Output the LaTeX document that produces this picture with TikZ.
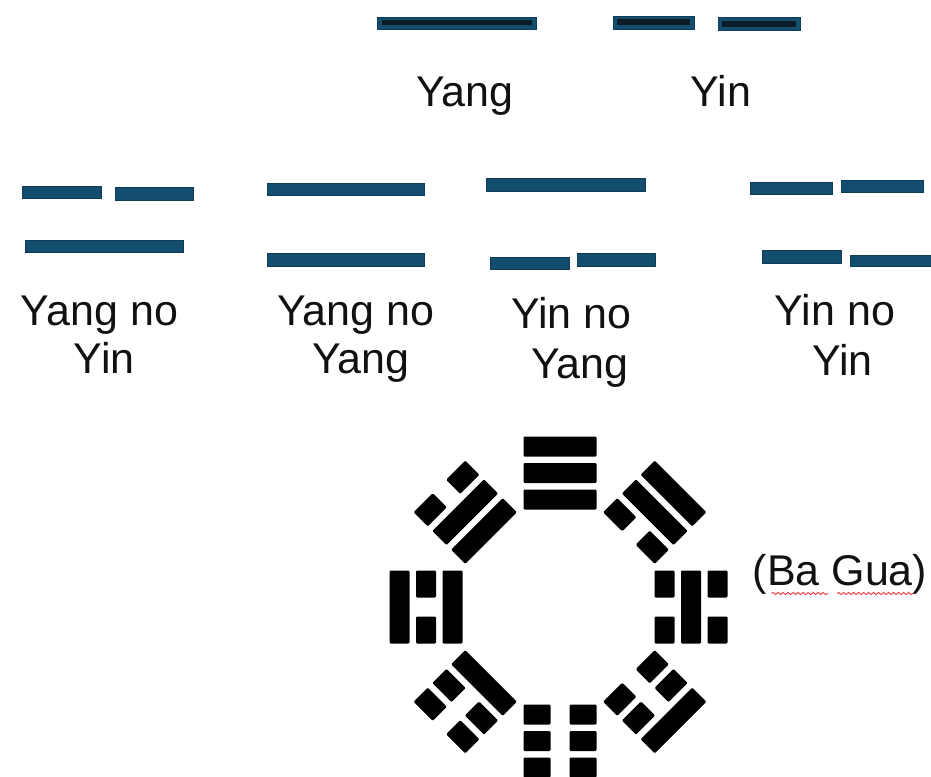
\documentclass[tikz,border=0pt]{standalone}
\usepackage{fontspec}
\setmainfont{Liberation Sans}
\usetikzlibrary{decorations.pathmorphing}
\definecolor{barblue}{HTML}{134E6F}
\definecolor{barline}{HTML}{0E3B55}
\definecolor{barcore}{HTML}{0B1C26}
\definecolor{inkblk}{HTML}{111111}
\definecolor{squig}{HTML}{F03A3A}
\tikzset{
  bluebar/.style={fill=barblue, draw=barline, line width=0.8pt},
  corebar/.style={fill=barcore},
  yao/.style={fill=black, rounded corners=1.2pt},
  lbl/.style={text=inkblk, font=\fontsize{43}{48}\selectfont, inner sep=0pt, anchor=base},
  spell/.style={draw=squig, line width=0.9pt, decorate,
    decoration={snake, segment length=5pt, amplitude=1.1pt}}
}
\begin{document}
\begin{tikzpicture}[x=1pt, y=-1pt]
\useasboundingbox (0,0) rectangle (931,776);

% ---- Yang / Yin ----
\fill[bluebar] (377,17) rectangle (536,29);
\fill[corebar] (381.5,20.5) rectangle (531.5,25.5);
\fill[bluebar] (613,16) rectangle (694,29);
\fill[corebar] (617,19.5) rectangle (690,24.7);
\fill[bluebar] (718,17.5) rectangle (800,30.5);
\fill[corebar] (722,21.3) rectangle (796,26.7);
\node[lbl] (tyang) at (465,106.7) {Yang};
\node[lbl] (tyin) at (721,106.7) {Yin};

% ---- Yang no Yin ----
\fill[bluebar] (22.7,186) rectangle (101.7,198.3);
\fill[bluebar] (115,187.7) rectangle (193.3,200.7);
\fill[bluebar] (25,240.7) rectangle (183.3,252.7);
\node[lbl] (t1a) at (99.5,325) {Yang no};
\node[lbl] (t1b) at (104.2,373.3) {Yin};

% ---- Yang no Yang ----
\fill[bluebar] (267.7,183.3) rectangle (424.3,195.7);
\fill[bluebar] (267.7,253.3) rectangle (424.3,266);
\node[lbl] (t2a) at (355.8,325) {Yang no};
\node[lbl] (t2b) at (360.8,373.3) {Yang};

% ---- Yin no Yang ----
\fill[bluebar] (486.7,178.3) rectangle (645.7,191.7);
\fill[bluebar] (490.7,257.3) rectangle (569,269);
\fill[bluebar] (577.3,253.3) rectangle (655.7,266);
\node[lbl] (t3a) at (571.5,328.3) {Yin no};
\node[lbl] (t3b) at (580,378.3) {Yang};

% ---- Yin no Yin ----
\fill[bluebar] (750.7,182.3) rectangle (832.3,194.3);
\fill[bluebar] (841.7,180.7) rectangle (923.3,192.7);
\fill[bluebar] (762.3,250.7) rectangle (841.7,263.3);
\fill[bluebar] (850.7,255) rectangle (933,266.7);
\node[lbl] (t4a) at (835,325) {Yin no};
\node[lbl] (t4b) at (842.5,375) {Yin};

% ---- Ba Gua ----
\coordinate (bg) at (560,607);
\foreach \ang/\la/\lb/\lc/\off in {90/1/1/1/0, 45/0/1/1/0, 0/0/1/0/-3, 315/0/0/1/0,
                              270/0/0/0/0, 225/1/0/0/0, 180/1/0/1/0, 135/1/1/0/0} {
  \begin{scope}[shift={(bg)}, rotate=\ang]
    \foreach \k/\s in {0/\la, 1/\lb, 2/\lc} {
      \pgfmathsetmacro\rr{107.5+26.5*\k+\off}
      \ifnum\s=1
        \fill[yao] (\rr-10,-36.5) rectangle (\rr+10,36.5);
      \else
        \fill[yao] (\rr-10,-36.5) rectangle (\rr+10,-9.5);
        \fill[yao] (\rr-10,9.5) rectangle (\rr+10,36.5);
      \fi
    }
  \end{scope}
}

\node[lbl] (tbagua) at (840,585) {(Ba Gua)};
\coordinate (sq1) at (771.5,593.5);
\coordinate (sq2) at (828,593.5);
\coordinate (sq3) at (837,593.5);
\coordinate (sq4) at (913.5,593.5);
\draw[spell] (sq1) -- (sq2);
\draw[spell] (sq3) -- (sq4);
\end{tikzpicture}
\end{document}
